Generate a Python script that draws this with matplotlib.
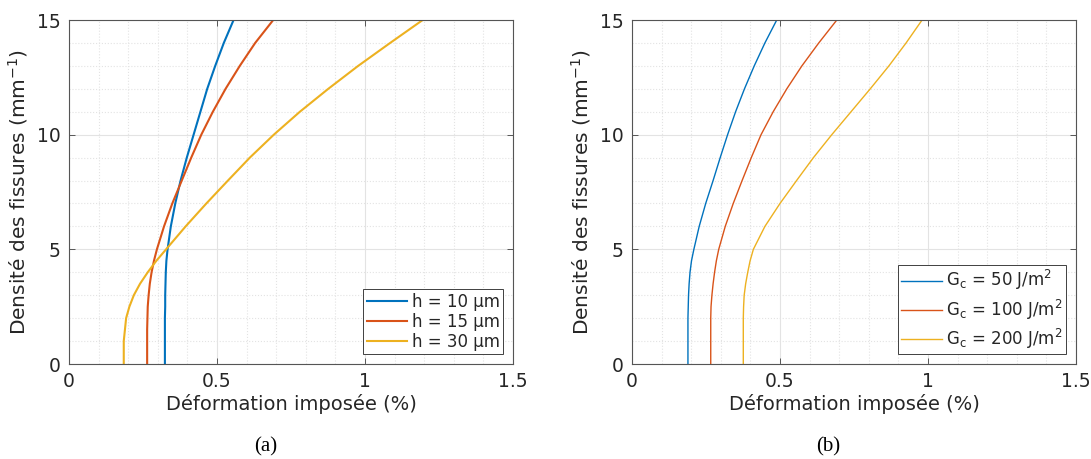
import matplotlib
matplotlib.use('Agg')
import matplotlib.pyplot as plt
from matplotlib.ticker import MultipleLocator

# crack density (mm^-1), shared y values for every curve
dens = [0, 1, 1.5, 2, 2.5, 3, 3.5, 4, 4.5, 5, 6, 7, 8, 9, 10, 11, 12, 13, 14, 15]

# (a) effect of the layer thickness h
h_labels = ['h = 10 µm', 'h = 15 µm', 'h = 30 µm']
eps_h10 = [0.324, 0.324, 0.324, 0.324, 0.325, 0.325, 0.326, 0.327, 0.329, 0.333,
           0.344, 0.359, 0.377, 0.398, 0.421, 0.444, 0.467, 0.494, 0.523, 0.556]
eps_h15 = [0.264, 0.264, 0.264, 0.265, 0.266, 0.269, 0.273, 0.279, 0.287, 0.297,
           0.321, 0.349, 0.381, 0.413, 0.447, 0.486, 0.529, 0.577, 0.629, 0.690]
eps_h30 = [0.185, 0.185, 0.189, 0.193, 0.204, 0.219, 0.240, 0.266, 0.295, 0.328,
           0.394, 0.464, 0.537, 0.611, 0.692, 0.780, 0.876, 0.977, 1.085, 1.195]

# (b) effect of the fracture energy Gc
gc_labels = [r'G$_{\rm c}$ = 50 J/m$^2$', r'G$_{\rm c}$ = 100 J/m$^2$', r'G$_{\rm c}$ = 200 J/m$^2$']
eps_g50 = [0.189, 0.189, 0.189, 0.189, 0.190, 0.191, 0.193, 0.196, 0.201, 0.209,
           0.227, 0.249, 0.274, 0.298, 0.323, 0.350, 0.380, 0.413, 0.449, 0.489]
eps_g100 = [0.266, 0.266, 0.266, 0.266, 0.267, 0.270, 0.274, 0.279, 0.285, 0.293,
            0.315, 0.342, 0.372, 0.403, 0.436, 0.477, 0.523, 0.574, 0.631, 0.692]
eps_g200 = [0.376, 0.376, 0.376, 0.376, 0.377, 0.379, 0.384, 0.391, 0.399, 0.410,
            0.449, 0.500, 0.556, 0.613, 0.675, 0.740, 0.805, 0.868, 0.926, 0.980]

colors = ['#0072BD', '#D95319', '#EDB120']
txt = '#262626'

plt.rcParams['font.family'] = ['DejaVu Sans']
plt.rcParams['mathtext.fontset'] = 'dejavusans'
plt.rcParams['font.size'] = 13.5

fig = plt.figure(figsize=(10.91, 4.59), dpi=100)
axa = fig.add_axes([69/1091, 95/459, 444/1091, 344/459])
axb = fig.add_axes([632/1091, 95/459, 444/1091, 344/459])


def style(ax):
    ax.set_xlim(0, 1.5)
    ax.set_ylim(0, 15)
    ax.xaxis.set_minor_locator(MultipleLocator(0.1))
    ax.yaxis.set_major_locator(MultipleLocator(5))
    ax.yaxis.set_minor_locator(MultipleLocator(1))
    ax.set_xticks([0, 0.5, 1, 1.5], ['0', '0.5', '1', '1.5'])
    ax.grid(True, which='major', color='#e3e3e3', lw=0.8)
    ax.grid(True, which='minor', color='#e3e3e3', lw=0.8, ls=':')
    ax.set_axisbelow(True)
    ax.tick_params(which='major', direction='in', length=4, width=0.6,
                   top=True, right=True, colors='#404040', labelcolor=txt, pad=6,
                   labelsize=13.5)
    ax.tick_params(which='minor', length=0)
    for s in ax.spines.values():
        s.set_color('#555555')
        s.set_linewidth(0.8)
    ax.set_xlabel('Déformation imposée (%)', color=txt, fontsize=14, labelpad=2)
    ax.set_ylabel(r'Densité des fissures (mm$^{\mathdefault{-1}}$)', color=txt,
                  fontsize=14.5, labelpad=5)


def add_legend(ax, spacing):
    leg = ax.legend(loc='lower right', fancybox=False, edgecolor='#404040', framealpha=1,
                    handlelength=2.45, handletextpad=0.25, borderpad=0.2,
                    labelspacing=spacing, borderaxespad=0.6, fontsize=12, labelcolor=txt)
    leg.get_frame().set_linewidth(0.7)


for x, lab, c in zip([eps_h10, eps_h15, eps_h30], h_labels, colors):
    axa.plot(x, dens, color=c, lw=1.5, label=lab)
style(axa)
add_legend(axa, 0.12)

for x, lab, c in zip([eps_g50, eps_g100, eps_g200], gc_labels, colors):
    axb.plot(x, dens, color=c, lw=1.0, label=lab)
style(axb)
add_legend(axb, 0.3)

fig.text(266/1091, 1 - 447/459, '(a)', ha='center', va='center',
         family=['Liberation Serif'], fontsize=15, color='black')
fig.text(828/1091, 1 - 447/459, '(b)', ha='center', va='center',
         family=['Liberation Serif'], fontsize=15, color='black')

fig.savefig('out.png', dpi=100)
